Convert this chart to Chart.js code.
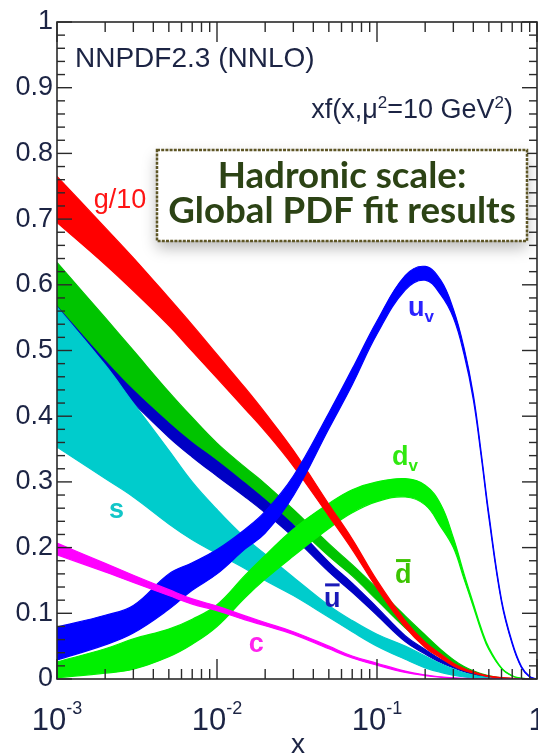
<!DOCTYPE html>
<html>
<head>
<meta charset="utf-8">
<script src="https://cdn.jsdelivr.net/npm/chart.js@4/dist/chart.umd.min.js"></script>
<style>
  html, body { margin: 0; padding: 0; background: #ffffff; }
  canvas { display: block; }
</style>
</head>
<body>
<canvas id="pdf" width="538" height="755"></canvas>
<script>
// Momentum fraction grid shared by all bands
const xGrid = [0.001, 0.002, 0.003, 0.005, 0.007, 0.01, 0.015, 0.02, 0.03, 0.05, 0.07, 0.1,
               0.15, 0.2, 0.25, 0.3, 0.35, 0.4, 0.45, 0.5, 0.6, 0.7, 0.8, 0.9, 1.0];

// xf(x, mu^2 = 10 GeV^2) uncertainty bands: upper and lower edges
const gluonHi = [.765,.687,.641,.580,.539,.494,.443,.405,.348,.266,.213,.150,.089,.056,.038,.024,.016,.011,.007,.0045,.0021,.0011,.0004,.0001,0];
const gluonLo = [.695,.631,.591,.538,.499,.458,.411,.377,.324,.248,.197,.138,.079,.048,.032,.020,.013,.009,.006,.0035,.0015,.0007,.0002,.0001,0];

const uvHi = [.079,.097,.112,.160,.177,.197,.228,.255,.309,.405,.472,.545,.614,.628,.607,.563,.504,.433,.341,.252,.121,.056,.019,.004,0];
const uvLo = [.029,.052,.070,.106,.135,.160,.198,.222,.279,.381,.448,.525,.592,.607,.585,.550,.494,.425,.335,.246,.117,.053,.017,.003,0];

const dvHi = [.026,.046,.061,.076,.091,.113,.158,.188,.228,.267,.288,.300,.305,.295,.266,.215,.160,.115,.076,.048,.017,.005,.0012,.0002,0];
const dvLo = [.002,.009,.015,.034,.053,.080,.124,.152,.187,.229,.253,.270,.277,.265,.232,.200,.152,.110,.072,.045,.016,.0045,.001,.0002,0];

const dbarHi = [.634,.550,.500,.437,.398,.359,.322,.297,.258,.206,.174,.138,.096,.067,.045,.0295,.019,.0125,.008,.005,.0016,.0006,.0001,0,0];
const dbarLo = [.570,.487,.442,.392,.362,.334,.300,.275,.237,.187,.157,.120,.078,.053,.035,.0225,.015,.0095,.006,.004,.0012,.0004,.0001,0,0];

const ubarHi = [.600,.492,.447,.394,.364,.336,.302,.277,.235,.178,.146,.109,.066,.045,.030,.021,.014,.009,.006,.003,.001,0,0,0,0];
const ubarLo = [.550,.462,.420,.368,.338,.309,.277,.253,.216,.163,.132,.097,.057,.038,.025,.017,.011,.007,.004,.002,.0008,0,0,0,0];

const sHi = [.566,.478,.420,.348,.300,.258,.215,.190,.155,.112,.089,.068,.050,.035,.023,.015,.0095,.006,.0035,.002,.0006,.0001,0,0,0];
const sLo = [.353,.305,.277,.236,.212,.191,.168,.150,.127,.094,.072,.050,.030,.017,.010,.006,.003,.0015,.0008,.0005,.0001,0,0,0,0];

const cHi = [.207,.176,.158,.136,.122,.111,.096,.086,.072,.050,.035,.024,.012,.0062,.0032,.0016,.0008,.0004,.0002,0,0,0,0,0,0];
const cLo = [.189,.163,.147,.127,.114,.104,.090,.081,.068,.046,.032,.021,.010,.0052,.0026,.0012,.0006,.0003,.0001,0,0,0,0,0,0];

// Axis tick labels
const yTickStep = 0.1;
const xDecades = [-3, -2, -1];

const FONT = '"Liberation Sans", Arial, Helvetica, sans-serif';
const INK = '#1c2444';

// Band definitions, listed top-most first (Chart.js paints dataset 0 last)
const bands = [
  { name: 'c',    hi: cHi,     lo: cLo,     color: '#ff00ff' },
  { name: 'uv',   hi: uvHi,    lo: uvLo,    color: '#0000ff' },
  { name: 'g/10', hi: gluonHi, lo: gluonLo, color: '#ff0000' },
  { name: 'dv',   hi: dvHi,    lo: dvLo,    color: '#00f000' },
  { name: 's',    hi: sHi,     lo: sLo,     color: '#00cccc' },
  { name: 'dbar', hi: dbarHi,  lo: dbarLo,  color: '#00c400' },
  { name: 'ubar', hi: ubarHi,  lo: ubarLo,  color: '#0000c4' }
];

const toPoints = arr => xGrid.map((x, i) => ({ x, y: arr[i] }));

const datasets = [];
bands.forEach(b => {
  const common = {
    borderColor: b.color, backgroundColor: b.color, borderWidth: 1.2,
    pointRadius: 0, tension: 0.4
  };
  datasets.push(Object.assign({ label: b.name + ' upper', data: toPoints(b.hi), fill: '+1' }, common));
  datasets.push(Object.assign({ label: b.name + ' lower', data: toPoints(b.lo), fill: false }, common));
});

// Curve labels, placed in data coordinates
const curveLabels = [
  { text: 'g/10', x: 0.00248, y: 0.717, color: '#ff1414', align: 'center', bold: false },
  { text: 'u',    x: 0.156,   y: 0.553, color: '#2a22ff', sub: 'v' },
  { text: 'd',    x: 0.124,   y: 0.325, color: '#30e810', sub: 'v' },
  { text: 'd',    x: 0.1296,  y: 0.146, color: '#3cc400', bar: true },
  { text: 'u',    x: 0.0467,  y: 0.109, color: '#1a1ab8', bar: true },
  { text: 's',    x: 0.00211, y: 0.245, color: '#12c6c8' },
  { text: 'c',    x: 0.0158,  y: 0.041, color: '#ff22ee' }
];

const overlay = {
  id: 'overlay',
  afterDatasetsDraw(chart) {
    const ctx = chart.ctx;
    const ca = chart.chartArea;
    const xs = chart.scales.x, ys = chart.scales.y;
    ctx.save();

    // curve labels
    curveLabels.forEach(l => {
      const px = xs.getPixelForValue(l.x), py = ys.getPixelForValue(l.y);
      ctx.fillStyle = l.color;
      ctx.textBaseline = 'alphabetic';
      ctx.font = (l.bold === false ? '' : 'bold ') + '27px ' + FONT;
      ctx.textAlign = l.align || 'left';
      ctx.fillText(l.text, px, py);
      const w = ctx.measureText(l.text).width;
      if (l.sub) {
        ctx.font = 'bold 17px ' + FONT;
        ctx.textAlign = 'left';
        ctx.fillText(l.sub, px + w, py + 6);
      }
      if (l.bar) {
        ctx.fillRect(px + 1, py - 24, w - 2, 3);
      }
    });

    // frame
    ctx.strokeStyle = '#2a2a2a';
    ctx.lineWidth = 1.6;
    ctx.strokeRect(ca.left, ca.top, ca.right - ca.left, ca.bottom - ca.top);

    const seg = (x1, y1, x2, y2) => { ctx.beginPath(); ctx.moveTo(x1, y1); ctx.lineTo(x2, y2); ctx.stroke(); };
    ctx.lineWidth = 1.4;

    // y ticks, both sides
    for (let k = 0; k <= 50; k++) {
      const py = ys.getPixelForValue(k / 50);
      const len = k % 5 === 0 ? 15 : 8;
      seg(ca.left, py, ca.left + len, py);
      seg(ca.right, py, ca.right - len, py);
    }
    // x ticks, top and bottom
    for (let d = -3; d <= 0; d++) {
      for (let m = 1; m <= 9; m++) {
        if (d === 0 && m > 1) break;
        const px = xs.getPixelForValue(m * Math.pow(10, d));
        const len = m === 1 ? 20 : 10;
        seg(px, ca.bottom, px, ca.bottom - len);
        seg(px, ca.top, px, ca.top + len);
      }
    }

    // x tick labels as powers of ten
    ctx.fillStyle = INK;
    ctx.textBaseline = 'alphabetic';
    ctx.textAlign = 'left';
    xDecades.forEach(e => {
      const px = xs.getPixelForValue(Math.pow(10, e));
      ctx.font = '31px ' + FONT;
      const w1 = ctx.measureText('10').width;
      ctx.font = '18px ' + FONT;
      const w2 = ctx.measureText(String(e)).width;
      const x0 = px - (w1 + w2) / 2;
      ctx.font = '31px ' + FONT;
      ctx.fillText('10', x0, 730);
      ctx.font = '18px ' + FONT;
      ctx.fillText(String(e), x0 + w1, 714);
    });
    ctx.font = '31px ' + FONT;
    ctx.textAlign = 'center';
    ctx.fillText('1', xs.getPixelForValue(1), 730);

    // axis title
    ctx.font = '28px ' + FONT;
    ctx.fillText('x', 298, 753);

    // header texts
    ctx.textAlign = 'left';
    ctx.font = '28px ' + FONT;
    ctx.fillText('NNPDF2.3 (NNLO)', 75, 67);

    const parts = [['xf(x,\u03bc', 0], ['2', 1], ['=10 GeV', 0], ['2', 1], [')', 0]];
    let total = 0;
    parts.forEach(p => { ctx.font = (p[1] ? '17px ' : '27px ') + FONT; total += ctx.measureText(p[0]).width; });
    let cx = 513 - total;
    parts.forEach(p => {
      ctx.font = (p[1] ? '17px ' : '27px ') + FONT;
      ctx.fillText(p[0], cx, p[1] ? 108 : 118);
      cx += ctx.measureText(p[0]).width;
    });

    // highlighted note box
    const bx = 157, by = 150, bw = 370, bh = 91;
    ctx.save();
    ctx.shadowColor = 'rgba(0,0,0,0.28)';
    ctx.shadowBlur = 14;
    ctx.shadowOffsetY = 7;
    ctx.fillStyle = '#ffffff';
    ctx.fillRect(bx, by, bw, bh);
    ctx.restore();
    ctx.strokeStyle = '#5e5626';
    ctx.lineWidth = 2.5;
    ctx.setLineDash([3, 1.2]);
    ctx.strokeRect(bx, by, bw, bh);
    ctx.setLineDash([]);

    ctx.fillStyle = '#2c4315';
    ctx.textAlign = 'center';
    let fs = 30;
    ctx.font = 'bold ' + fs + 'px Lato, "Open Sans", sans-serif';
    fs = fs * 348 / ctx.measureText('Global PDF fit results').width;
    ctx.font = 'bold ' + fs.toFixed(1) + 'px Lato, "Open Sans", sans-serif';
    ctx.fillText('Hadronic scale:', bx + bw / 2, 188);
    ctx.fillText('Global PDF fit results', bx + bw / 2, 223);

    ctx.restore();
  }
};

new Chart(document.getElementById('pdf'), {
  type: 'line',
  data: { datasets },
  options: {
    responsive: false,
    animation: false,
    devicePixelRatio: 1,
    layout: { padding: { top: 22, right: 1, left: 0, bottom: 0 } },
    plugins: { legend: { display: false }, tooltip: { enabled: false } },
    scales: {
      x: {
        type: 'logarithmic', min: 0.001, max: 1,
        ticks: { display: false },
        grid: { display: false, drawTicks: false },
        border: { display: false },
        afterFit(scale) { scale.height = 76; }
      },
      y: {
        min: 0, max: 1,
        ticks: {
          stepSize: yTickStep, padding: 4, color: INK,
          font: { family: FONT, size: 27 },
          callback: v => String(+v.toFixed(1))
        },
        grid: { display: false, drawTicks: false },
        border: { display: false },
        afterFit(scale) { scale.width = 57; }
      }
    }
  },
  plugins: [overlay]
});
</script>
</body>
</html>
